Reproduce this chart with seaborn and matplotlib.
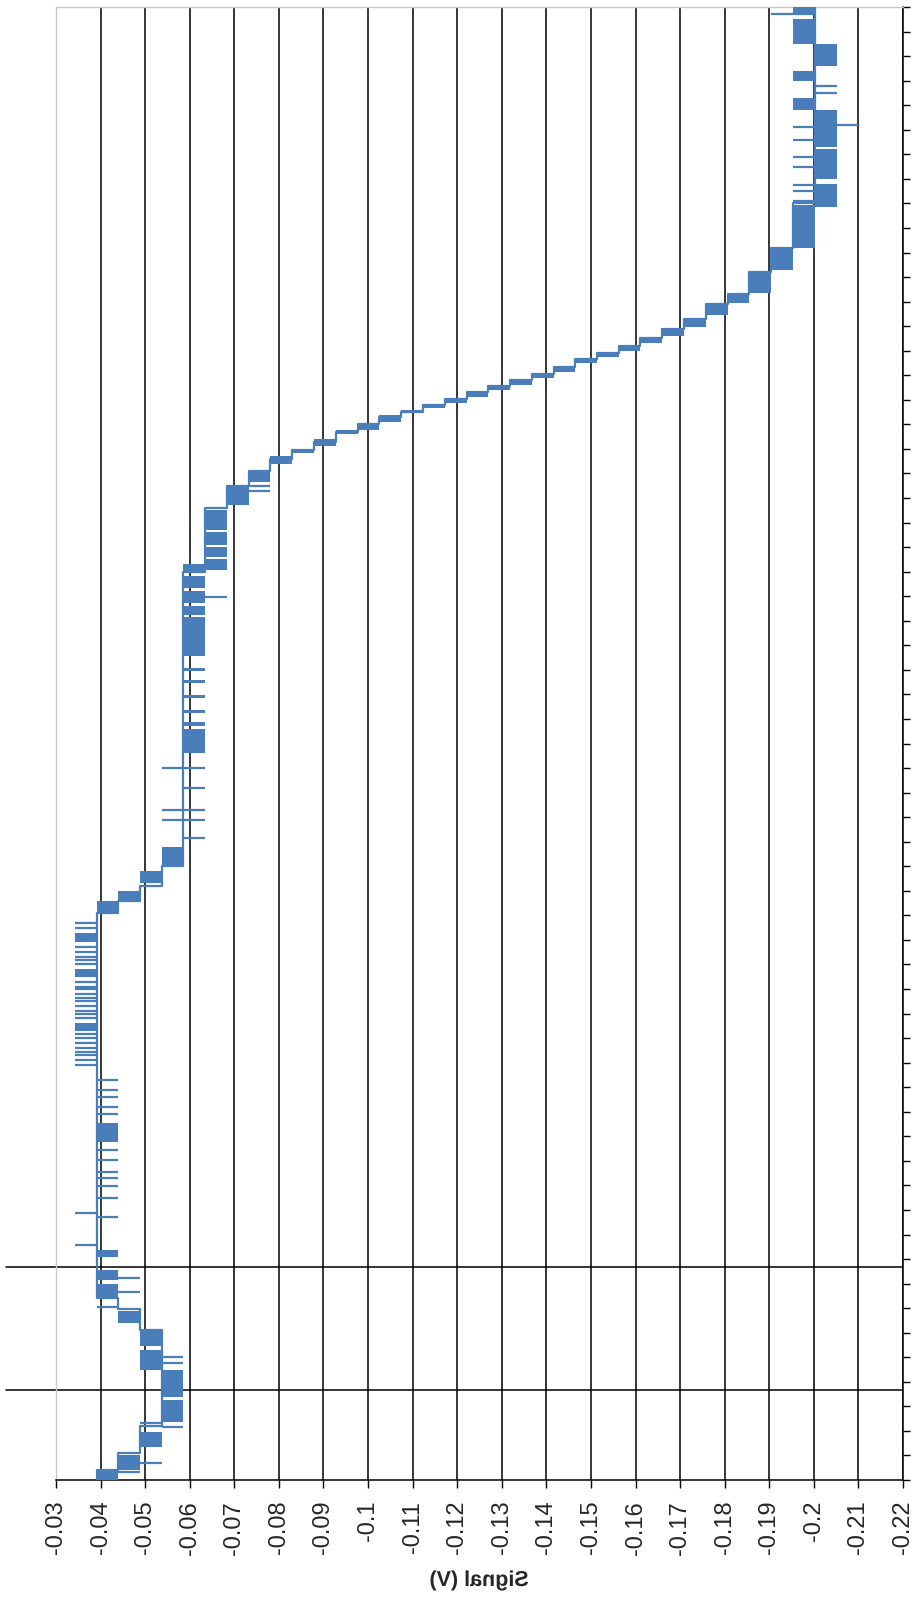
import matplotlib
matplotlib.use("Agg")
import matplotlib.pyplot as plt
import seaborn as sns
import pandas as pd
import numpy as np
from matplotlib.patheffects import AbstractPathEffect
from matplotlib.transforms import Affine2D, blended_transform_factory

# Signal axis (V) - ticks as printed on the chart
signal_ticks = [-0.03, -0.04, -0.05, -0.06, -0.07, -0.08, -0.09, -0.1, -0.11, -0.12,
                -0.13, -0.14, -0.15, -0.16, -0.17, -0.18, -0.19, -0.2, -0.21, -0.22]
signal_labels = ["-0.03", "-0.04", "-0.05", "-0.06", "-0.07", "-0.08", "-0.09", "-0.1",
                 "-0.11", "-0.12", "-0.13", "-0.14", "-0.15", "-0.16", "-0.17", "-0.18",
                 "-0.19", "-0.2", "-0.21", "-0.22"]
time_ticks = list(range(0, 61))

# main step path of the signal (time, volts)
trace_t = [0.0, 0.41, 0.41, 1.10, 1.10, 2.20, 2.20, 6.10, 6.10, 6.95, 6.95, 7.40, 7.40,
           23.1, 23.1, 23.6, 23.6, 24.2, 24.2, 25.0, 25.0, 37.0, 37.0, 39.6, 39.6, 40.5,
           40.5, 41.1, 41.1, 41.6, 41.6, 41.95, 41.95, 42.3, 42.3, 42.7, 42.7, 43.0, 43.0,
           43.3, 43.3, 43.5, 43.5, 43.8, 43.8, 44.05, 44.05, 44.3, 44.3, 44.55, 44.55, 44.8,
           44.8, 45.05, 45.05, 45.35, 45.35, 45.65, 45.65, 45.9, 45.9, 46.2, 46.2, 46.5,
           46.5, 46.9, 46.9, 47.3, 47.3, 47.9, 47.9, 48.3, 48.3, 49.2, 49.2, 50.2, 50.2,
           52.0, 52.0, 60.0]
trace_v = [-0.0391, -0.0391, -0.0439, -0.0439, -0.0488, -0.0488, -0.0537, -0.0537, -0.0488,
           -0.0488, -0.0439, -0.0439, -0.0391, -0.0391, -0.0439, -0.0439, -0.0488, -0.0488,
           -0.0537, -0.0537, -0.0586, -0.0586, -0.0635, -0.0635, -0.0684, -0.0684, -0.0732,
           -0.0732, -0.0781, -0.0781, -0.0830, -0.0830, -0.0879, -0.0879, -0.0928, -0.0928,
           -0.0977, -0.0977, -0.1025, -0.1025, -0.1074, -0.1074, -0.1123, -0.1123, -0.1172,
           -0.1172, -0.1221, -0.1221, -0.1270, -0.1270, -0.1318, -0.1318, -0.1367, -0.1367,
           -0.1416, -0.1416, -0.1465, -0.1465, -0.1514, -0.1514, -0.1563, -0.1563, -0.1611,
           -0.1611, -0.1660, -0.1660, -0.1709, -0.1709, -0.1758, -0.1758, -0.1807, -0.1807,
           -0.1855, -0.1855, -0.1904, -0.1904, -0.1953, -0.1953, -0.2002, -0.2002]

# dense toggling between two adjacent levels: time start, time end, level a, level b
block_t0 = [0.00, 0.41, 1.34, 2.36, 3.38, 4.48, 5.45, 6.40, 7.45, 8.15, 9.08, 13.77,
            18.3, 20.5, 21.9, 23.05, 23.6, 24.3, 25.05,
            29.61, 30.10, 30.71, 31.24, 31.85, 32.46, 32.95, 33.56, 33.69, 35.23, 35.72,
            36.33, 36.95,
            37.07, 37.6, 38.1, 38.7, 39.7, 40.65, 41.4, 41.85, 42.1, 42.6, 42.77, 43.1,
            43.45, 43.65, 43.87, 44.1, 44.38, 44.6, 44.88, 45.15, 45.5, 45.75, 46.0, 46.3,
            46.6, 46.95, 47.45, 47.95, 48.35, 49.3, 50.2, 51.85, 53.0, 54.3, 57.6, 55.8,
            57.0, 58.5, 59.7]
block_t1 = [0.41, 1.02, 1.96, 3.26, 4.48, 5.30, 6.10, 6.90, 8.00, 8.55, 9.37, 14.54,
            18.6, 20.8, 22.3, 23.6, 24.0, 24.8, 25.8,
            30.22, 30.58, 30.88, 31.36, 31.98, 32.59, 33.08, 33.69, 35.15, 35.60, 36.20,
            36.82, 37.30,
            37.5, 38.0, 38.6, 39.5, 40.45, 41.05, 41.7, 42.0, 42.4, 42.77, 43.05, 43.4,
            43.6, 43.8, 44.05, 44.3, 44.52, 44.75, 45.05, 45.35, 45.65, 45.9, 46.2, 46.5,
            46.9, 47.3, 47.95, 48.35, 49.2, 50.2, 51.95, 52.8, 54.2, 55.8, 58.5, 56.3,
            57.4, 59.5, 60.0]
block_a = [-0.0391, -0.0439, -0.0488, -0.0537, -0.0537, -0.0488, -0.0488, -0.0439, -0.0391,
           -0.0391, -0.0391, -0.0391,
           -0.0342, -0.0342, -0.0342, -0.0391, -0.0439, -0.0488, -0.0537,
           -0.0586, -0.0586, -0.0586, -0.0586, -0.0586, -0.0586, -0.0586, -0.0586, -0.0586,
           -0.0586, -0.0586, -0.0586, -0.0586,
           -0.0635, -0.0635, -0.0635, -0.0635, -0.0684, -0.0732, -0.0781, -0.0830, -0.0879,
           -0.0928, -0.0977, -0.1025, -0.1074, -0.1123, -0.1172, -0.1221, -0.1270, -0.1318,
           -0.1367, -0.1416, -0.1465, -0.1514, -0.1563, -0.1611, -0.1660, -0.1709, -0.1758,
           -0.1807, -0.1855, -0.1904, -0.1953, -0.2002, -0.2002, -0.2002, -0.2002, -0.1953,
           -0.1953, -0.1953, -0.1953]
block_b = [-0.0439, -0.0488, -0.0537, -0.0586, -0.0586, -0.0537, -0.0537, -0.0488, -0.0439,
           -0.0439, -0.0439, -0.0439,
           -0.0391, -0.0391, -0.0391, -0.0439, -0.0488, -0.0537, -0.0586,
           -0.0635, -0.0635, -0.0635, -0.0635, -0.0635, -0.0635, -0.0635, -0.0635, -0.0635,
           -0.0635, -0.0635, -0.0635, -0.0635,
           -0.0684, -0.0684, -0.0684, -0.0684, -0.0732, -0.0781, -0.0830, -0.0879, -0.0928,
           -0.0977, -0.1025, -0.1074, -0.1123, -0.1172, -0.1221, -0.1270, -0.1318, -0.1367,
           -0.1416, -0.1465, -0.1514, -0.1563, -0.1611, -0.1660, -0.1709, -0.1758, -0.1807,
           -0.1855, -0.1904, -0.1953, -0.2002, -0.2051, -0.2051, -0.2051, -0.2051, -0.2002,
           -0.2002, -0.2002, -0.2002]

# single-sample excursions: time, from level, to level
spike_t = [0.33, 0.69, 2.16, 2.32, 4.77, 5.00, 7.05, 7.66, 8.23, 9.57, 10.71, 10.88,
           11.49, 11.98, 12.30, 12.55, 13.03, 13.44, 14.9, 15.2, 15.6, 15.9, 16.3,
           16.9, 17.1, 17.3, 17.45, 17.6, 17.8, 18.0, 18.15, 18.8, 19.0, 19.1, 19.3, 19.5,
           19.65, 19.8, 20.0, 20.1, 20.3, 21.0, 21.2, 21.3, 21.5, 21.7, 22.5, 22.7,
           26.15, 26.9, 27.3, 28.2, 29.0, 35.97, 40.3, 40.5,
           52.1, 52.5, 52.75, 53.5, 53.9, 54.6, 55.1, 55.2, 56.5, 56.8, 59.7]
spike_v0 = [-0.0391, -0.0439, -0.0537, -0.0488, -0.0537, -0.0537, -0.0391, -0.0439, -0.0439,
            -0.0342, -0.0391, -0.0342, -0.0391, -0.0391, -0.0391, -0.0391, -0.0391, -0.0391,
            -0.0391, -0.0391, -0.0391, -0.0391, -0.0391,
            -0.0342, -0.0342, -0.0342, -0.0342, -0.0342, -0.0342, -0.0342, -0.0342, -0.0342,
            -0.0342, -0.0342, -0.0342, -0.0342, -0.0342, -0.0342, -0.0342, -0.0342, -0.0342,
            -0.0342, -0.0342, -0.0342, -0.0342, -0.0342, -0.0342, -0.0342,
            -0.0586, -0.0537, -0.0537, -0.0586, -0.0537, -0.0635, -0.0732, -0.0732,
            -0.1953, -0.1953, -0.1953, -0.1953, -0.1953, -0.1953, -0.1953, -0.2051, -0.2002,
            -0.2002, -0.1904]
spike_v1 = [-0.0488, -0.0537, -0.0586, -0.0537, -0.0586, -0.0586, -0.0439, -0.0488, -0.0488,
            -0.0391, -0.0439, -0.0391, -0.0439, -0.0439, -0.0439, -0.0439, -0.0439, -0.0439,
            -0.0439, -0.0439, -0.0439, -0.0439, -0.0439,
            -0.0391, -0.0391, -0.0391, -0.0391, -0.0391, -0.0391, -0.0391, -0.0391, -0.0391,
            -0.0391, -0.0391, -0.0391, -0.0391, -0.0391, -0.0391, -0.0391, -0.0391, -0.0391,
            -0.0391, -0.0391, -0.0391, -0.0391, -0.0391, -0.0391, -0.0391,
            -0.0635, -0.0635, -0.0635, -0.0635, -0.0635, -0.0684, -0.0781, -0.0781,
            -0.2002, -0.2002, -0.2002, -0.2002, -0.2002, -0.2002, -0.2002, -0.2100, -0.2051,
            -0.2051, -0.2002]

# black marker lines across the chart
marker_t = [3.67, 8.68]

BLUE = "#4A7EBB"


class MirrorText(AbstractPathEffect):
    """draw the text mirrored left-right, as it appears in the scanned chart"""
    def draw_path(self, renderer, gc, tpath, affine, rgbFace=None):
        ext = tpath.get_extents()
        flip = Affine2D().scale(-1, 1).translate(ext.x0 + ext.x1, 0)
        renderer.draw_path(gc, tpath, flip + affine, rgbFace)


sns.set_theme(style="white")
plt.rcParams["font.family"] = ["Liberation Sans", "DejaVu Sans"]

fig = plt.figure(figsize=(9.17, 16.05), dpi=100)
ax = fig.add_axes([56 / 917, 1 - 1480 / 1605, 847 / 917, 1473 / 1605])

# dense blocks
for t0, t1, a, b in zip(block_t0, block_t1, block_a, block_b):
    ax.fill_betweenx([t0, t1], a, b, color=BLUE, lw=0, zorder=3)

# spikes
ax.hlines(spike_t, spike_v0, spike_v1, color=BLUE, lw=1.6, zorder=3)

# step path
trace = pd.DataFrame({"time": trace_t, "signal": trace_v})
sns.lineplot(data=trace, x="signal", y="time", sort=False, estimator=None,
             color=BLUE, lw=1.6, ax=ax, zorder=4)

# vertical grid
for v in signal_ticks[1:]:
    ax.axvline(v, color="black", lw=1.1, zorder=1)

trans = blended_transform_factory(ax.transAxes, ax.transData)
for t in marker_t:
    ax.plot([-50 / 847, 1.0], [t, t], color="black", lw=1.1, transform=trans,
            clip_on=False, zorder=2)

ax.set_xlim(-0.03, -0.22)
ax.set_ylim(0, 60)
ax.set_xticks(signal_ticks)
ax.set_xticklabels(signal_labels, rotation=90, fontsize=17)
ax.yaxis.tick_right()
ax.set_yticks(time_ticks)
ax.set_yticklabels([])
ax.tick_params(axis="x", direction="out", length=6, width=1, color="black", pad=9,
               bottom=True)
ax.tick_params(axis="y", direction="out", length=5, width=1, color="black", right=True)

for side in ["left", "top"]:
    ax.spines[side].set_color("#c8c8c8")
    ax.spines[side].set_linewidth(1.0)
for side in ["bottom", "right"]:
    ax.spines[side].set_color("black")
    ax.spines[side].set_linewidth(1.1)

ax.set_ylabel("")
xl = ax.set_xlabel("Signal (V)", fontsize=15.5, fontweight="bold")
ax.xaxis.set_label_coords(0.5, -90 / 1473)
xl.set_va("top")
xl.set_path_effects([MirrorText()])

fig.savefig("out.png", dpi=100)
